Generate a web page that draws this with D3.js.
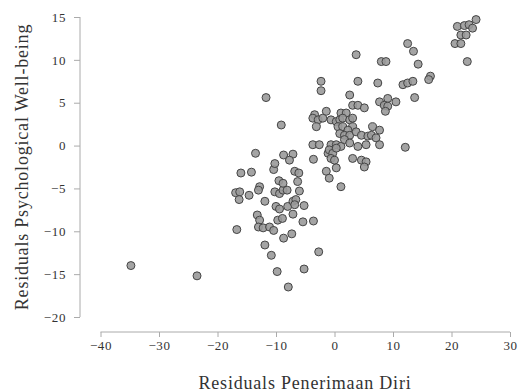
<!DOCTYPE html>
<html><head><meta charset="utf-8">
<script src="https://cdn.jsdelivr.net/npm/d3@7"></script>
<style>body{margin:0;background:#fff}svg{display:block}</style>
</head><body>
<script>
const xLabel = "Residuals Penerimaan Diri";
const yLabel = "Residuals Psychological Well-being";
const xTicks = [-40,-30,-20,-10,0,10,20,30];
const yTicks = [-20,-15,-10,-5,0,5,10,15];
const xValues = [-34.8,-23.5,-13.5,-16.0,-14.2,-16.9,-16.2,-16.3,-14.6,-12.8,-13.0,-11.9,-13.2,-12.8,-13.0,-12.2,-11.1,-10.4,-16.7,-11.9,-10.8,-9.8,-7.9,-5.2,-2.7,-8.7,-7.3,-5.4,-3.6,-9.7,-8.9,-7.1,-10.0,-9.4,-8.0,-7.1,-6.6,-5.2,-10.2,-9.4,-8.8,-8.1,-9.5,-8.8,-10.4,-10.2,-8.7,-7.1,-7.7,-6.8,-6.1,-6.3,-6.0,-6.8,-11.7,-9.1,
-3.6,-3.7,-2.6,-1.4,-1.1,-2.3,-2.3,4.0,7.4,8.0,8.8,3.7,14.3,2.6,3.1,4.0,5.1,7.7,9.1,8.5,9.1,8.7,10.5,11.7,12.5,13.4,13.7,16.4,16.1,12.1,-3.4,-3.7,-2.8,-2.0,-1.4,-3.1,-0.6,0.3,1.1,2.0,0.9,1.4,2.6,3.1,0.6,1.4,3.1,2.3,0.9,1.7,2.6,3.7,4.6,5.7,6.5,7.7,6.3,7.1,-0.6,0.3,1.1,1.7,2.6,4.0,5.4,7.7,-0.9,-0.3,0.3,-0.6,0.0,3.1,4.6,5.4,5.1,0.3,-0.9,1.1,
24.2,21.0,22.2,23.0,23.6,21.6,22.5,20.6,21.6,22.7,12.5,13.5];
const yValues = [-14.0,-15.2,-0.9,-3.2,-3.1,-5.5,-5.4,-6.3,-5.8,-4.8,-5.2,-6.5,-8.1,-8.7,-9.5,-9.6,-9.5,-9.9,-9.8,-11.6,-12.8,-14.7,-16.5,-14.4,-12.4,-10.8,-10.3,-8.9,-8.8,-8.7,-8.5,-8.0,-7.1,-7.4,-7.1,-6.5,-6.3,-7.0,-5.4,-5.6,-5.2,-5.2,-4.1,-4.4,-2.8,-2.1,-1.1,-1.0,-1.7,-3.0,-3.2,-4.2,-5.3,-6.9,5.6,2.4,
-1.6,0.1,0.1,-3.0,-0.9,7.5,6.4,7.5,7.3,9.8,9.8,10.6,9.5,5.9,4.7,4.7,4.4,5.1,5.5,4.7,4.6,4.0,5.1,7.1,7.3,7.5,5.6,8.1,7.7,-0.2,3.6,3.2,3.0,3.2,4.0,2.2,3.0,2.8,3.8,3.8,3.0,3.2,3.0,3.2,2.2,2.2,2.2,1.8,1.4,1.2,1.2,1.6,1.2,1.1,2.2,1.8,1.2,0.9,0.1,0.1,-0.1,0.7,0.3,-0.1,0.1,0.1,-0.5,-0.9,-0.3,-1.5,-1.7,-1.5,-1.7,-1.9,-2.5,-2.6,-3.8,-4.8,
14.7,13.9,14.0,14.1,13.7,12.9,12.9,11.9,11.9,9.8,11.9,11.0];

const W = 518, H = 392;
const svg = d3.select("body").append("svg").attr("width", W).attr("height", H);
const x = d3.scaleLinear().domain([-40, 30]).range([100.5, 510]);
const y = d3.scaleLinear().domain([-20, 15]).range([317, 17]);
const font = "'Liberation Serif', 'Times New Roman', serif";

const xAxis = svg.append("g").attr("transform", "translate(0,332)")
  .call(d3.axisBottom(x).tickValues(xTicks).tickSize(5).tickPadding(4).tickFormat(d3.format("d")));
const yAxis = svg.append("g").attr("transform", "translate(80,0)")
  .call(d3.axisLeft(y).tickValues(yTicks).tickSize(6).tickPadding(8).tickFormat(d3.format("d")));
[xAxis, yAxis].forEach(g => {
  g.select(".domain").attr("stroke", "#aaa").attr("stroke-width", 1);
  g.selectAll(".tick line").attr("stroke", "#aaa");
  g.selectAll(".tick text").attr("fill", "#333").style("font-family", font)
    .style("font-size", "13px").style("letter-spacing", "0.6px");
});
xAxis.select(".domain").attr("d", `M${x(-40)},0H${x(30)}`);
yAxis.select(".domain").attr("d", `M0,${y(-20)}V${y(15)}`);

svg.append("text").attr("x", 305).attr("y", 389).attr("text-anchor", "middle")
  .style("font-family", font).style("font-size", "18px").style("letter-spacing", "0.8px")
  .attr("fill", "#333").text(xLabel);
svg.append("text").attr("transform", "translate(28,167) rotate(-90)").attr("text-anchor", "middle")
  .style("font-family", font).style("font-size", "18px").style("letter-spacing", "0.8px")
  .attr("fill", "#333").text(yLabel);

const pts = xValues.map((v, i) => ({x: v, y: yValues[i]}));
svg.append("g").selectAll("circle").data(pts).join("circle")
  .attr("cx", d => x(d.x)).attr("cy", d => y(d.y)).attr("r", 4)
  .attr("fill", "#9a9a9a").attr("stroke", "#444").attr("stroke-width", 1).attr("fill-opacity", 0.9);
</script>
</body></html>
